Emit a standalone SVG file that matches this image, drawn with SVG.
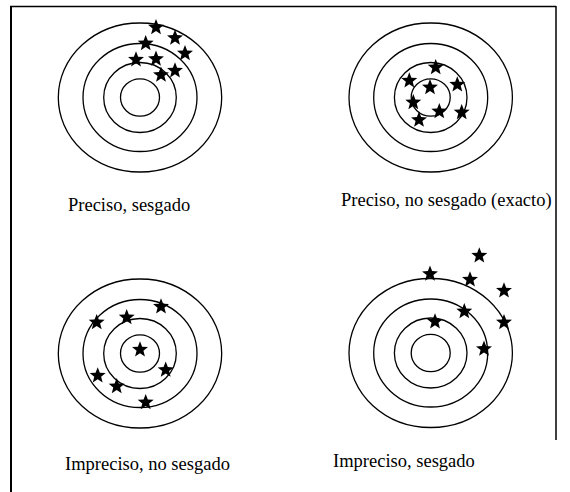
<svg xmlns="http://www.w3.org/2000/svg" xmlns:xlink="http://www.w3.org/1999/xlink" width="570" height="492" viewBox="0 0 570 492">
<style>
.ring{fill:none;stroke:#000;stroke-width:1.3}
.lbl{font-family:"Liberation Serif","Times New Roman",serif;font-size:18.5px;fill:#000}
.frame{fill:none;stroke:#000}
</style>
<defs>
<path id="star" transform="scale(1.12)" d="M0,-7.5 L1.9,-2.6 L7.133,-2.318 L3.05,1 L4.408,6.068 L0,3.2 L-4.408,6.068 L-3.05,1 L-7.133,-2.318 L-1.9,-2.6 Z" fill="#000"/>
<g id="target">
<ellipse class="ring" cx="0" cy="0" rx="81.7" ry="74.5"/>
<ellipse class="ring" cx="0" cy="0" rx="57" ry="54"/>
<ellipse class="ring" cx="0" cy="0" rx="36.3" ry="35"/>
<ellipse class="ring" cx="0" cy="0" rx="19.5" ry="18.7"/>
</g>
</defs>
<rect width="570" height="492" fill="#fff"/>
<g id="frame">
<line class="frame" x1="11" y1="6" x2="11" y2="492" stroke-width="2"/>
<line class="frame" x1="10" y1="6.5" x2="556" y2="6.5" stroke-width="1.5"/>
<line class="frame" x1="556" y1="6" x2="556" y2="440" stroke-width="1.5"/>
</g>
<g id="t1">
<use xlink:href="#target" x="140" y="97.5"/>
<use xlink:href="#star" x="156" y="27.4"/>
<use xlink:href="#star" x="175" y="38"/>
<use xlink:href="#star" x="145.7" y="43.4"/>
<use xlink:href="#star" x="185" y="53.4"/>
<use xlink:href="#star" x="136" y="59.7"/>
<use xlink:href="#star" x="156" y="59"/>
<use xlink:href="#star" x="175" y="70.7"/>
<use xlink:href="#star" x="161" y="75"/>
<text class="lbl" x="68" y="211">Preciso, sesgado</text>
</g>
<g id="t2">
<use xlink:href="#target" x="430.7" y="97.5"/>
<use xlink:href="#star" x="435.7" y="67.4"/>
<use xlink:href="#star" x="409.3" y="80.7"/>
<use xlink:href="#star" x="457.3" y="84.7"/>
<use xlink:href="#star" x="430" y="87.4"/>
<use xlink:href="#star" x="413.3" y="102.4"/>
<use xlink:href="#star" x="439.3" y="111.4"/>
<use xlink:href="#star" x="461.7" y="112.4"/>
<use xlink:href="#star" x="419" y="120"/>
<text class="lbl" x="341" y="206">Preciso, no sesgado (exacto)</text>
</g>
<g id="t3">
<use xlink:href="#target" x="140" y="353.5"/>
<use xlink:href="#star" x="161" y="306.7"/>
<use xlink:href="#star" x="126.7" y="317.4"/>
<use xlink:href="#star" x="96.7" y="322.4"/>
<use xlink:href="#star" x="140" y="349.7"/>
<use xlink:href="#star" x="165.7" y="370"/>
<use xlink:href="#star" x="97.7" y="375.7"/>
<use xlink:href="#star" x="116.7" y="386.4"/>
<use xlink:href="#star" x="145.7" y="402.4"/>
<text class="lbl" x="65" y="470">Impreciso, no sesgado</text>
</g>
<g id="t4">
<use xlink:href="#target" x="430.7" y="353"/>
<use xlink:href="#star" x="479.3" y="255.7"/>
<use xlink:href="#star" x="430" y="274"/>
<use xlink:href="#star" x="470" y="279.7"/>
<use xlink:href="#star" x="504" y="290.7"/>
<use xlink:href="#star" x="464.3" y="311.4"/>
<use xlink:href="#star" x="435" y="321.7"/>
<use xlink:href="#star" x="504" y="322.4"/>
<use xlink:href="#star" x="484" y="349"/>
<text class="lbl" x="333" y="467">Impreciso, sesgado</text>
</g>
<g id="connectors"></g>
</svg>
